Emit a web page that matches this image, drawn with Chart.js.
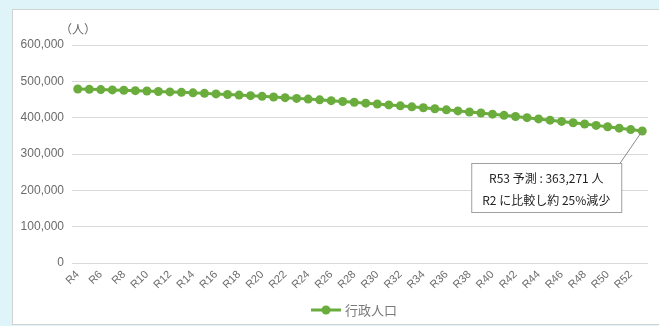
<!DOCTYPE html>
<html>
<head>
<meta charset="utf-8">
<script src="https://cdn.jsdelivr.net/npm/chart.js@4/dist/chart.umd.min.js"></script>
<style>
  html, body { margin: 0; padding: 0; width: 659px; height: 326px; overflow: hidden; background: #dff4f9; }
  #panel { position: absolute; left: 12px; top: 9px; width: 660px; height: 314px; background: #fff; border: 1px solid #d2d2d2; }
  #wrap { position: absolute; left: 0; top: 0; width: 659px; height: 326px; }
</style>
</head>
<body>
<div id="panel"></div>
<div id="wrap"><canvas id="c" width="659" height="326"></canvas></div>
<script>
// Fiscal years (Reiwa) on the horizontal axis
const categories = [
  'R4','R5','R6','R7','R8','R9','R10','R11','R12','R13',
  'R14','R15','R16','R17','R18','R19','R20','R21','R22','R23',
  'R24','R25','R26','R27','R28','R29','R30','R31','R32','R33',
  'R34','R35','R36','R37','R38','R39','R40','R41','R42','R43',
  'R44','R45','R46','R47','R48','R49','R50','R51','R52','R53'
];

// Administrative population (persons)
const population = [
  478800, 478050, 477230, 476350, 475400, 474380, 473290, 472140, 470920, 469640,
  468280, 466860, 465380, 463820, 462200, 460510, 458760, 456940, 455050, 453090,
  451070, 448980, 446830, 444600, 442310, 439960, 437530, 435040, 432480, 429860,
  427170, 424410, 421580, 418690, 415730, 412710, 409610, 406450, 403220, 399930,
  396570, 393140, 389640, 386080, 382450, 378760, 374990, 371160, 367260, 363271
];

const yTickValues = [0, 100000, 200000, 300000, 400000, 500000, 600000];

const seriesName = '行政人口';
const unitLabel = '（人）';
const noteLine2 = 'R2 に比較し約 25%減少';

const green = '#6aad3d';
const latinFont = '"Liberation Sans", Arial, "Noto Sans CJK JP", sans-serif';
const cjkFont = '"Noto Sans CJK JP", "Liberation Sans", sans-serif';

const overlay = {
  id: 'overlay',
  afterDraw(chart) {
    const ctx = chart.ctx;
    const area = chart.chartArea;
    const meta = chart.getDatasetMeta(0);
    const lastIdx = population.length - 1;
    const pt = meta.data[lastIdx];

    ctx.save();

    // unit label above the value axis
    ctx.fillStyle = '#666';
    ctx.font = '12px ' + cjkFont;
    ctx.textAlign = 'left';
    ctx.textBaseline = 'middle';
    ctx.fillText(unitLabel, 60, 29);

    // callout for the final projected year
    const boxRight = pt.x - 21;
    const boxLeft = boxRight - 150;
    const boxTop = pt.y + 32;
    const boxH = 49;
    ctx.strokeStyle = '#8a8a8a';
    ctx.lineWidth = 1;
    ctx.beginPath();
    ctx.moveTo(boxRight - 1, boxTop);
    ctx.lineTo(pt.x, pt.y);
    ctx.stroke();
    ctx.fillStyle = '#fff';
    ctx.fillRect(boxLeft, boxTop, boxRight - boxLeft, boxH);
    ctx.strokeStyle = '#a0a0a0';
    ctx.strokeRect(boxLeft + 0.5, boxTop + 0.5, boxRight - boxLeft, boxH);

    const cx = (boxLeft + boxRight) / 2;
    ctx.fillStyle = '#222';
    ctx.textAlign = 'center';
    ctx.font = '12px ' + cjkFont;
    const line1 = categories[lastIdx] + ' 予測 : ' + population[lastIdx].toLocaleString('en-US') + ' 人';
    ctx.fillText(line1, cx, boxTop + 15);
    ctx.fillText(noteLine2, cx, boxTop + 37);

    // legend: line with marker and series name
    const lx = (area.left + area.right) / 2 - 49;
    const ly = 310;
    ctx.strokeStyle = green;
    ctx.lineWidth = 3;
    ctx.beginPath();
    ctx.moveTo(lx, ly);
    ctx.lineTo(lx + 30, ly);
    ctx.stroke();
    ctx.fillStyle = green;
    ctx.beginPath();
    ctx.arc(lx + 15, ly, 4.5, 0, Math.PI * 2);
    ctx.fill();
    ctx.fillStyle = '#7a7a7a';
    ctx.textAlign = 'left';
    ctx.font = '13px ' + cjkFont;
    ctx.fillText(seriesName, lx + 34, ly);

    ctx.restore();
  }
};

new Chart(document.getElementById('c'), {
  type: 'line',
  data: {
    labels: categories,
    datasets: [{
      label: seriesName,
      data: population,
      borderColor: green,
      backgroundColor: green,
      borderWidth: 3,
      pointRadius: 4.5,
      pointBorderWidth: 0,
      pointBackgroundColor: green,
      tension: 0
    }]
  },
  options: {
    responsive: false,
    animation: false,
    layout: { padding: { left: 0, top: 45, right: 11, bottom: 0 } },
    plugins: { legend: { display: false }, tooltip: { enabled: false } },
    scales: {
      x: {
        offset: true,
        grid: { display: false, drawTicks: false },
        border: { display: false },
        ticks: {
          autoSkip: false,
          maxRotation: 45,
          minRotation: 45,
          padding: 5,
          color: '#6b6b6b',
          font: { family: latinFont, size: 11 },
          callback: function (v, i) { return i % 2 === 0 ? categories[i] : ''; }
        },
        afterFit: function (s) { s.height = 63; }
      },
      y: {
        min: 0,
        max: 600000,
        afterBuildTicks: function (s) { s.ticks = yTickValues.map(v => ({ value: v })); },
        grid: { color: '#d9d9d9', lineWidth: 1, drawTicks: false },
        border: { display: false },
        ticks: {
          padding: 8,
          color: '#6b6b6b',
          font: { family: latinFont, size: 12 },
          callback: function (v) { return v.toLocaleString('en-US'); }
        },
        afterFit: function (s) { s.width = 72; }
      }
    }
  },
  plugins: [overlay]
});
</script>
</body>
</html>
